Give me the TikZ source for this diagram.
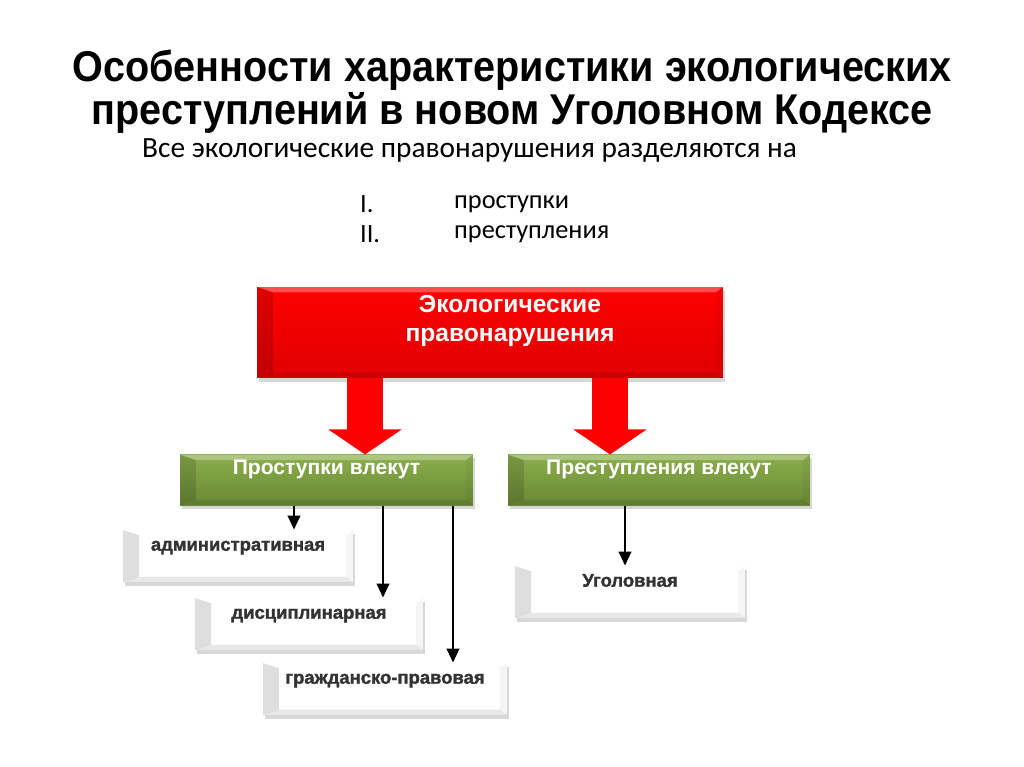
\documentclass[tikz,border=0pt]{standalone}
\usepackage{fontspec}
\setmainfont{Liberation Sans}
\newfontfamily\titlefont[FakeStretch=0.92]{Liberation Sans}
\newfontfamily\heavyfont[FakeBold=1.5]{Liberation Sans Bold}
\newfontfamily\calfont{Carlito}
\usetikzlibrary{arrows.meta,shadows}

\definecolor{ecored}{HTML}{FF0000}
\definecolor{ecoreddark}{HTML}{E00000}
\definecolor{ecogreen}{HTML}{8AAE4C}
\definecolor{ecogreendark}{HTML}{6A8834}

\tikzstyle{bevel} = [path picture={
  \fill[white,opacity=0.3] (path picture bounding box.north west) -- (path picture bounding box.north east)
    -- ([shift={(-4pt,-3pt)}]path picture bounding box.north east) -- ([shift={(9pt,-3pt)}]path picture bounding box.north west) -- cycle;
  \fill[black,opacity=0.13] (path picture bounding box.north west) -- ([shift={(9pt,-3pt)}]path picture bounding box.north west)
    -- ([shift={(9pt,3pt)}]path picture bounding box.south west) -- (path picture bounding box.south west) -- cycle;
  \fill[black,opacity=0.09] (path picture bounding box.south west) -- ([shift={(9pt,3pt)}]path picture bounding box.south west)
    -- ([shift={(-4pt,3pt)}]path picture bounding box.south east) -- (path picture bounding box.south east) -- cycle;
  \fill[black,opacity=0.04] (path picture bounding box.north east) -- ([shift={(-4pt,-3pt)}]path picture bounding box.north east)
    -- ([shift={(-4pt,3pt)}]path picture bounding box.south east) -- (path picture bounding box.south east) -- cycle;
}]
\tikzstyle{basebox} = [rectangle, bevel, drop shadow={opacity=0.3, shadow xshift=1pt, shadow yshift=-2pt}]
\tikzstyle{headbox} = [basebox, minimum width=9.32cm, minimum height=1.82cm, top color=ecored, bottom color=ecoreddark]
\tikzstyle{resultbox} = [basebox, minimum height=1cm, top color=ecogreen, bottom color=ecogreendark,
  text=white, font=\bfseries\fontsize{12}{14}\selectfont, text height=8pt, text depth=14pt]
\tikzstyle{penaltybox} = [basebox, minimum width=4.6cm, minimum height=1.04cm, fill=white,
  text=black!80, font=\heavyfont\fontsize{10.5}{12}\selectfont, text height=8pt, text depth=14pt]
\tikzstyle{bigarrow} = [line width=0.72cm, ecored, -{Triangle[width=1.44cm, length=0.5cm]}]
\tikzstyle{arrow} = [line width=1.6pt, -{Triangle[width=7pt, length=8pt]}]

\begin{document}
\begin{tikzpicture}[x=0.02cm, y=-0.02cm]
\useasboundingbox (0,0) rectangle (1024,767);
\fill[white] (0,0) rectangle (1024,767);

% heading
\node (title) [align=center, font=\titlefont\bfseries\fontsize{24.5}{21.5}\selectfont] at (512,92)
  {Особенности характеристики экологических\\преступлений в новом Уголовном Кодексе};
\node (intro) [anchor=west, font=\calfont\fontsize{16.7}{18}\selectfont] at (136,150)
  {Все экологические правонарушения разделяются на};
\node (n1) [anchor=west, font=\calfont\fontsize{15}{16}\selectfont] at (354,204) {I.};
\node (item1) [anchor=west, font=\calfont\fontsize{15}{16}\selectfont] at (448,204) {проступки};
\node (n2) [anchor=west, font=\calfont\fontsize{15}{16}\selectfont] at (354,234) {II.};
\node (item2) [anchor=west, font=\calfont\fontsize{15}{16}\selectfont] at (448,234) {преступления};

% diagram
\node (eco) [headbox, label={[align=center, text=white, font=\bfseries\fontsize{14}{16.5}\selectfont, xshift=0.4cm, yshift=0.24cm]center:Экологические\\правонарушения}] at (490,332.5) {};
\node (prost) [resultbox, minimum width=5.86cm] at (326.5,480) {Проступки влекут};
\node (prest) [resultbox, minimum width=6.04cm] at (659,480) {Преступления влекут};

\node (adm) [penaltybox] at (238,556) {административная};
\node (disc) [penaltybox, minimum width=4.56cm] at (309,624) {дисциплинарная};
\node (civ) [penaltybox, minimum width=4.88cm] at (385,689) {гражданско-правовая};
\node (crim) [penaltybox] at (630,592) {Уголовная};

\coordinate (left) at (365,378);
\coordinate (right) at (610,378);
\draw [bigarrow] (left) -- (left |- prost.north);
\draw [bigarrow] (right) -- (right |- prest.north);

\draw [arrow] (prost.south -| 294,0) -- (294,0 |- adm.north);
\draw [arrow] (prost.south -| 383,0) -- (383,0 |- disc.north);
\draw [arrow] (prost.south -| 453,0) -- (453,0 |- civ.north);
\draw [arrow] (prest.south -| 625,0) -- (625,0 |- crim.north);
\end{tikzpicture}
\end{document}
